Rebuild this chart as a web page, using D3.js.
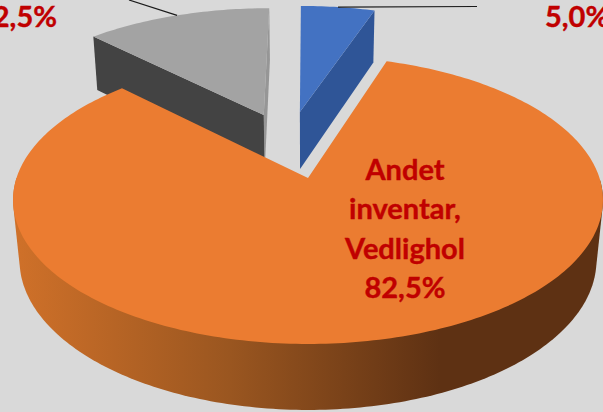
<!DOCTYPE html>
<html lang="da">
<head>
<meta charset="utf-8">
<title>Andet inventar</title>
<script src="https://cdnjs.cloudflare.com/ajax/libs/d3/7.8.5/d3.min.js"></script>
<style>
    html, body { margin: 0; padding: 0; background: #d9d9d9; overflow: hidden; }
    svg { display: block; }
    text { font-family: Lato, "Open Sans", sans-serif; font-weight: 700; fill: #c00000; stroke: #c00000; stroke-width: 0.4px; font-size: 29px; }
</style>
</head>
<body>
<div id="chart"></div>
<script>
// Data
const sliceIds = ["blaa", "orange", "graa"];
const sliceValues = [5.0, 82.5, 12.5];
const sliceNames = [[], ["Andet", "inventar,", "Vedlighol"], []];

// Couleurs
const topColors = ["#4372c2", "#eb7c31", "#a3a3a3"];
const cutColors = ["#2f5597", null, "#434343"];

(function() {
    const width = 603;
    const height = 412;

    // Perspective camera, fitted on the picture
    const cam = { cx: 308, cy: 178, fx: 291.5, fy: 140.6, drop: 61, p: 0.1528, q: 0.022 };

    // Exploded offset of each slice, in pie radius units
    const explode = [[-0.03, 0.505], [0, 0], [-0.163, 0.481]];

    function project(x, s, z) {
        const w = 1 + cam.p * s + cam.q * z;
        return [cam.cx + cam.fx * x / w, cam.cy - (cam.fy * s - cam.drop * z) / w];
    }

    // Point on a slice: r = 0 at the apex, r = 1 on the rim
    function slicePoint(i, angle, r, z) {
        return project(
            explode[i][0] + r * Math.sin(angle),
            explode[i][1] + r * Math.cos(angle),
            z
        );
    }

    function sliceAngles(d) {
        const step = Math.PI / 180;
        return d3.range(d.startAngle, d.endAngle, step).concat(d.endAngle);
    }

    function rimPoints(i, d, z) {
        return sliceAngles(d).map(a => slicePoint(i, a, 1, z));
    }

    // Flat wall below one straight edge of a slice
    function cutFace(i, angle) {
        return line([
            slicePoint(i, angle, 0, 0),
            slicePoint(i, angle, 1, 0),
            slicePoint(i, angle, 1, 1),
            slicePoint(i, angle, 0, 1)
        ]) + "Z";
    }

    const pie = d3.pie().value(d => d).sort(null);
    const arcs = pie(sliceValues);
    const line = d3.line().curve(d3.curveLinear);

    const svg = d3.select("#chart")
        .append("svg")
        .attr("width", width)
        .attr("height", height);

    svg.append("rect")
        .attr("width", width)
        .attr("height", height)
        .attr("fill", "#d9d9d9");

    // Outer wall of the big slice
    const grad = svg.append("defs").append("linearGradient")
        .attr("id", "wall")
        .attr("gradientUnits", "userSpaceOnUse")
        .attr("x1", 20).attr("y1", 0)
        .attr("x2", 440).attr("y2", 0);
    grad.append("stop").attr("offset", "0").attr("stop-color", "#ce7029");
    grad.append("stop").attr("offset", "0.5").attr("stop-color", "#9a5620");
    grad.append("stop").attr("offset", "1").attr("stop-color", "#5e3113");

    // Back slices first, the big one last
    [2, 0, 1].forEach(i => {
        const d = arcs[i];
        const g = svg.append("g").attr("class", "slice-" + sliceIds[i]);

        if (i === 1) {
            // Hull of the front rim, its upper chord stays under the top face
            const front = sliceAngles(d).filter(a => Math.cos(a) < 0);
            const rim = front.map(a => slicePoint(i, a, 1, 0))
                .concat(front.map(a => slicePoint(i, a, 1, 1)));
            g.append("path")
                .attr("d", line(d3.polygonHull(rim)) + "Z")
                .attr("fill", "url(#wall)");
        }

        if (i === 0) {
            g.append("path")
                .attr("d", cutFace(i, d.endAngle))
                .attr("fill", cutColors[i]);
        }
        if (i === 2) {
            g.append("path")
                .attr("d", cutFace(i, d.endAngle))
                .attr("fill", "#969696");
            g.append("path")
                .attr("d", cutFace(i, d.startAngle))
                .attr("fill", cutColors[i]);
        }

        // Top face
        g.append("path")
            .attr("d", line([slicePoint(i, d.startAngle, 0, 0)].concat(rimPoints(i, d, 0))) + "Z")
            .attr("fill", topColors[i]);
    });

    // Leader lines
    const leaderEnds = { 0: [477, 6.5], 2: [129, 0] };
    Object.entries(leaderEnds).forEach(([i, end]) => {
        const d = arcs[+i];
        const mid = (d.startAngle + d.endAngle) / 2;
        svg.append("path")
            .attr("d", line([slicePoint(+i, mid, 1, 0), end]))
            .attr("fill", "none")
            .attr("stroke", "#1a1a1a")
            .attr("stroke-width", 1.2);
    });

    // Labels
    const formatPct = v => v.toFixed(1).replace(".", ",") + "%";

    svg.append("text")
        .attr("x", 545).attr("y", 26.5)
        .text(formatPct(sliceValues[0]));

    svg.append("text")
        .attr("x", 57).attr("y", 26.5)
        .attr("text-anchor", "end")
        .text(formatPct(sliceValues[2]));

    const main = svg.append("text")
        .attr("text-anchor", "middle");
    sliceNames[1].concat(formatPct(sliceValues[1])).forEach((t, k) => {
        main.append("tspan")
            .attr("x", 405)
            .attr("y", 180 + k * 39.3)
            .text(t);
    });
})();
</script>
</body>
</html>
